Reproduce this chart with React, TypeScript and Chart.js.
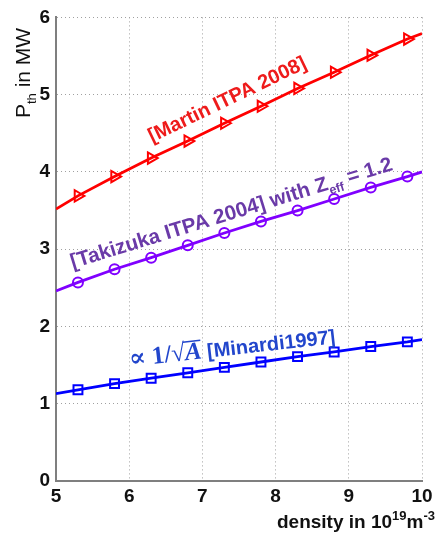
import React, { useEffect, useRef } from "react";
import { Chart, registerables } from "chart.js";

Chart.register(...registerables);

// density in 10^19 m^-3 (line ends at 5 and 10 carry no marker)
const density = [5.0, 5.3, 5.8, 6.3, 6.8, 7.3, 7.8, 8.3, 8.8, 9.3, 9.8, 10.0];
const hasMarker = [false, true, true, true, true, true, true, true, true, true, true, false];
// P_th in MW
const martinPth = [3.52, 3.69, 3.94, 4.18, 4.4, 4.63, 4.85, 5.08, 5.29, 5.51, 5.72, 5.79];
const takizukaPth = [2.46, 2.57, 2.74, 2.89, 3.05, 3.21, 3.36, 3.5, 3.65, 3.8, 3.94, 4.0];
const minardiPth = [1.13, 1.18, 1.26, 1.33, 1.4, 1.47, 1.54, 1.61, 1.67, 1.74, 1.8, 1.83];

const xTickLabels = ["5", "6", "7", "8", "9", "10"];
const yTickLabels = ["0", "1", "2", "3", "4", "5", "6"];

const RED = "#ff0000";
const PURPLE = "#8000ff";
const BLUE = "#0000ff";

const SANS = "'Liberation Sans', Arial, sans-serif";
const SERIF = "'Liberation Serif', 'DejaVu Serif', serif";

// annotation anchors in data coordinates
const martinLabel = { x: 6.31, y: 4.38, angle: -25.7 };
const takizukaLabel = { x: 5.23, y: 2.75, angle: -17.1 };
const minardiLabel = { x: 6.01, y: 1.48, angle: -6.5 };

function toPoints(ys: number[]) {
  return density.map((x, i) => ({ x, y: ys[i] }));
}

const annotationPlugin = {
  id: "annotations",
  afterDatasetsDraw(chart: any) {
    const { ctx, scales } = chart;
    const xs = scales.x;
    const ys = scales.y;
    const place = (a: { x: number; y: number; angle: number }) => {
      ctx.translate(xs.getPixelForValue(a.x), ys.getPixelForValue(a.y));
      ctx.rotate((a.angle * Math.PI) / 180);
    };
    ctx.save();
    ctx.textBaseline = "alphabetic";
    ctx.textAlign = "left";

    // Martin
    ctx.save();
    place(martinLabel);
    ctx.fillStyle = "#ee1b1b";
    ctx.font = `bold 20px ${SANS}`;
    ctx.fillText("[Martin ITPA 2008]", 0, 0);
    ctx.restore();

    // Takizuka
    ctx.save();
    place(takizukaLabel);
    ctx.fillStyle = "#6a3aa8";
    ctx.font = `bold 20.7px ${SANS}`;
    let cx = 0;
    const t1 = "[Takizuka ITPA 2004] with Z";
    ctx.fillText(t1, cx, 0);
    cx += ctx.measureText(t1).width;
    ctx.font = `bold 12.5px ${SANS}`;
    ctx.fillText("eff", cx, 5);
    cx += ctx.measureText("eff").width;
    ctx.font = `bold 20.7px ${SANS}`;
    ctx.fillText(" = 1.2", cx, 0);
    ctx.restore();

    // Minardi
    ctx.save();
    place(minardiLabel);
    ctx.fillStyle = "#2246cc";
    cx = 0;
    ctx.font = `bold 25px ${SERIF}`;
    const s1 = "\u221D 1/\u221A";
    ctx.fillText(s1, cx, 0);
    cx += ctx.measureText(s1).width;
    ctx.font = `italic bold 25px ${SERIF}`;
    ctx.fillText("A", cx, 0);
    const aw = ctx.measureText("A").width;
    ctx.fillRect(cx - 1, -19, aw + 1, 1.6);
    cx += aw;
    ctx.font = `bold 20px ${SANS}`;
    ctx.fillText(" [Minardi1997]", cx, 0);
    ctx.restore();

    ctx.restore();
  },
  afterDraw(chart: any) {
    const { ctx } = chart;
    ctx.save();
    ctx.fillStyle = "#111";
    ctx.textBaseline = "alphabetic";
    ctx.textAlign = "left";
    // y axis title
    ctx.save();
    ctx.translate(30, 118);
    ctx.rotate(-Math.PI / 2);
    ctx.font = `21px ${SANS}`;
    let cx = 0;
    ctx.fillText("P", cx, 0);
    cx += ctx.measureText("P").width;
    ctx.font = `13px ${SANS}`;
    ctx.fillText("th", cx, 6);
    cx += ctx.measureText("th").width;
    ctx.font = `21px ${SANS}`;
    ctx.fillText(" in MW", cx, 0);
    ctx.restore();

    // x axis title (right aligned)
    const parts: { t: string; size: number; dy: number }[] = [
      { t: "density in 10", size: 19, dy: 0 },
      { t: "19", size: 13, dy: -8 },
      { t: "m", size: 19, dy: 0 },
      { t: "-3", size: 13, dy: -8 },
    ];
    let total = 0;
    parts.forEach((p) => {
      ctx.font = `bold ${p.size}px ${SANS}`;
      total += ctx.measureText(p.t).width;
    });
    let x = 435 - total;
    parts.forEach((p) => {
      ctx.font = `bold ${p.size}px ${SANS}`;
      ctx.fillText(p.t, x, 528 + p.dy);
      x += ctx.measureText(p.t).width;
    });
    ctx.restore();
  },
};

export default function App() {
  const ref = useRef<HTMLCanvasElement | null>(null);
  useEffect(() => {
    if (!ref.current) return;
    const markerRadius = (r: number) => hasMarker.map((m) => (m ? r : 0));
    const chart = new Chart(ref.current, {
      type: "line",
      data: {
        datasets: [
          {
            label: "Martin ITPA 2008",
            data: toPoints(martinPth),
            borderColor: RED,
            backgroundColor: "rgba(0,0,0,0)",
            borderWidth: 2.8,
            pointStyle: "triangle",
            rotation: 90,
            pointRadius: markerRadius(6.5),
            pointBorderWidth: 2,
            pointBorderColor: RED,
            pointBackgroundColor: "rgba(0,0,0,0)",
            tension: 0,
          },
          {
            label: "Takizuka ITPA 2004",
            data: toPoints(takizukaPth),
            borderColor: PURPLE,
            backgroundColor: "rgba(0,0,0,0)",
            borderWidth: 2.8,
            pointStyle: "circle",
            pointRadius: markerRadius(5),
            pointBorderWidth: 2,
            pointBorderColor: PURPLE,
            pointBackgroundColor: "rgba(0,0,0,0)",
            tension: 0,
          },
          {
            label: "Minardi 1997",
            data: toPoints(minardiPth),
            borderColor: BLUE,
            backgroundColor: "rgba(0,0,0,0)",
            borderWidth: 2.8,
            pointStyle: "rect",
            pointRadius: markerRadius(6.3),
            pointBorderWidth: 2,
            pointBorderColor: BLUE,
            pointBackgroundColor: "rgba(0,0,0,0)",
            tension: 0,
          },
        ],
      },
      options: {
        responsive: false,
        animation: false,
        devicePixelRatio: 1,
        layout: { padding: { top: 14, right: 16, bottom: 0, left: 0 } },
        plugins: {
          legend: { display: false },
          tooltip: { enabled: false },
          title: { display: false },
        },
        scales: {
          x: {
            type: "linear",
            min: 5,
            max: 10,
            afterFit: (s: any) => {
              s.height = 56;
            },
            ticks: {
              stepSize: 1,
              padding: 4,
              color: "#111",
              font: { family: SANS, size: 19, weight: "bold" },
              callback: (v: any) => xTickLabels[Math.round(Number(v) - 5)] ?? "",
              maxRotation: 0,
            },
            grid: {
              color: "#a0a0a0",
              lineWidth: 1,
              drawTicks: false,
            },
            border: { display: true, color: "#7f7f7f", width: 2, dash: [1, 3] },
          },
          y: {
            min: 0,
            max: 6,
            afterFit: (s: any) => {
              s.width = 56;
            },
            ticks: {
              stepSize: 1,
              padding: 6,
              color: "#111",
              font: { family: SANS, size: 19, weight: "bold" },
              callback: (v: any) => yTickLabels[Math.round(Number(v))] ?? "",
            },
            grid: {
              color: "#a0a0a0",
              lineWidth: 1,
              drawTicks: false,
            },
            border: { display: true, color: "#7f7f7f", width: 2, dash: [1, 3] },
          },
        },
      } as any,
      plugins: [annotationPlugin],
    });
    return () => chart.destroy();
  }, []);
  return (
    <div style={{ position: "fixed", left: 0, top: 0, width: 438, height: 537, background: "#fff" }}>
      <canvas ref={ref} width={438} height={537} style={{ display: "block" }} />
    </div>
  );
}
